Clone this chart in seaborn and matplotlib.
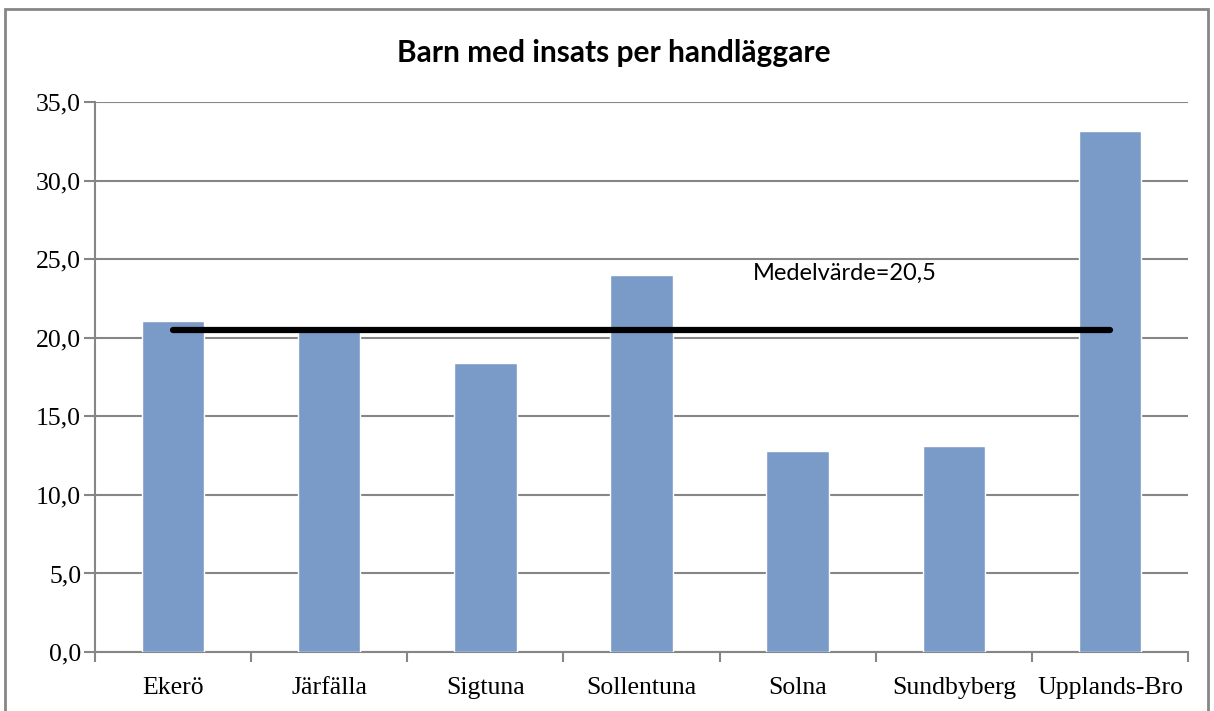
import matplotlib
matplotlib.use("Agg")
import matplotlib.pyplot as plt
import seaborn as sns
import pandas as pd
from matplotlib.patches import Rectangle
from matplotlib.ticker import FixedLocator, FuncFormatter

# Data
kommuner = ["Ekerö", "Järfälla", "Sigtuna", "Sollentuna", "Solna", "Sundbyberg", "Upplands-Bro"]
barn_per_handlaggare = [21.1, 20.5, 18.4, 24.0, 12.8, 13.1, 33.2]
medelvarde = 20.5
y_ticks = [0, 5, 10, 15, 20, 25, 30, 35]

sns.set_theme(style="white")

df = pd.DataFrame({"Kommun": kommuner, "Värde": barn_per_handlaggare})
df["Medel"] = medelvarde

fig = plt.figure(figsize=(12.14, 7.11), dpi=100)
ax = fig.add_axes([0.0783, 0.083, 0.9003, 0.773])

grey = "#868686"

sns.barplot(data=df, x="Kommun", y="Värde", color="#7A9AC7", width=0.4,
            saturation=1, ax=ax, zorder=3)
sns.lineplot(data=df, x="Kommun", y="Medel", color="black", linewidth=4.5,
             solid_capstyle="round", ax=ax, zorder=4)

ax.set_ylim(0, 35)
ax.set_xlim(-0.5, len(kommuner) - 0.5)
ax.set_yticks(y_ticks)
ax.yaxis.set_major_formatter(FuncFormatter(lambda v, p: f"{v:.1f}".replace(".", ",")))
ax.yaxis.grid(True, color=grey, linewidth=1.5, zorder=0)
ax.set_axisbelow(True)

# tick marks between categories, labels under bars
ax.xaxis.set_minor_locator(FixedLocator([i - 0.5 for i in range(len(kommuner) + 1)]))
ax.tick_params(axis="x", which="major", length=0, pad=18)
ax.tick_params(axis="x", which="minor", length=7, width=1.5, color=grey, direction="out", bottom=True)
ax.tick_params(axis="y", which="major", length=8, width=1.5, color=grey, direction="out", left=True, pad=2)

for lbl in ax.get_xticklabels() + ax.get_yticklabels():
    lbl.set_fontfamily("Liberation Serif")
    lbl.set_fontsize(18.5)
    lbl.set_color("black")

for side in ["top", "right"]:
    ax.spines[side].set_visible(False)
for side in ["left", "bottom"]:
    ax.spines[side].set_color(grey)
    ax.spines[side].set_linewidth(1.5)

ax.set_xlabel("")
ax.set_ylabel("")

ax.text(3.71, 24.1, "Medelvärde=20,5", fontsize=17, fontfamily="Lato",
        va="center", ha="left", color="black", zorder=5)

fig.text(0.506, 0.925, "Barn med insats per handläggare", fontsize=21.5,
         fontweight="bold", fontfamily="Lato", ha="center", va="center", color="black")

# chart area border
fig.patches.append(Rectangle((0.004, -0.05), 0.991, 1.037, transform=fig.transFigure,
                             fill=False, edgecolor=grey, linewidth=2))

fig.savefig("out.png", dpi=100)
